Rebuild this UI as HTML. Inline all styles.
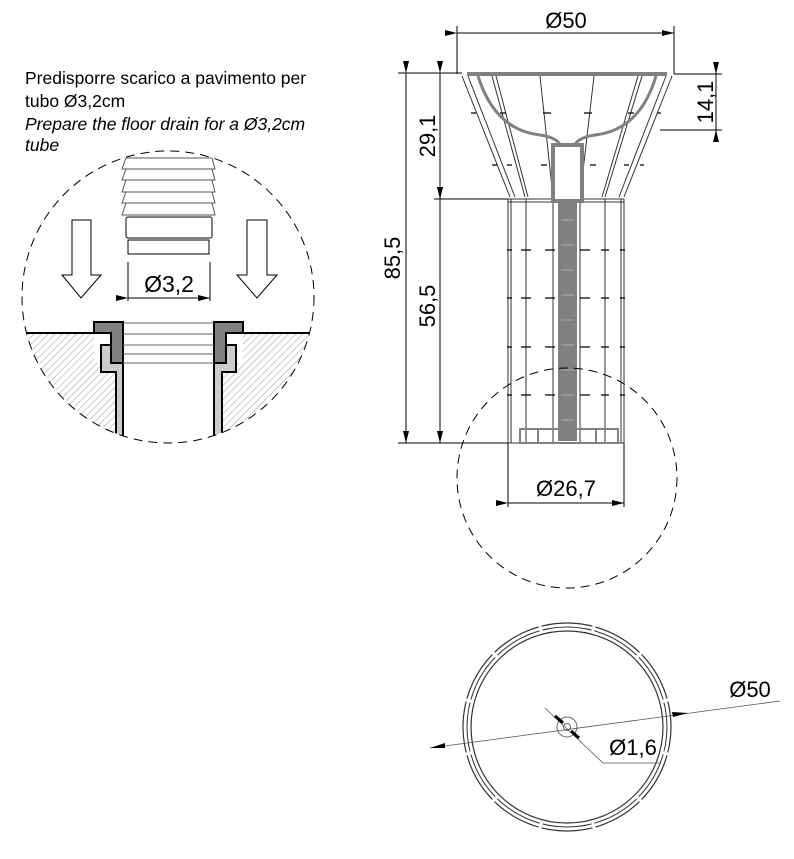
<!DOCTYPE html>
<html><head><meta charset="utf-8"><style>
html,body{margin:0;padding:0;background:#fff}
svg{display:block}
text{font-family:"Liberation Sans",Arial,sans-serif;fill:#000}
</style></head><body>
<svg width="794" height="859" viewBox="0 0 794 859" xmlns="http://www.w3.org/2000/svg">
<defs>
<marker id="ar" markerWidth="12" markerHeight="6" refX="12" refY="3" orient="auto" markerUnits="userSpaceOnUse"><path d="M0,0 L12,3 L0,6 z" fill="#000"/></marker>
<pattern id="hatch" width="5" height="5" patternUnits="userSpaceOnUse" patternTransform="rotate(45)"><line x1="0" y1="0" x2="0" y2="5" stroke="#999" stroke-width="1"/></pattern>
<clipPath id="cc"><circle cx="168" cy="297" r="146"/></clipPath>
</defs>

<text x="25" y="84" font-size="17.5">Predisporre scarico a pavimento per</text>
<text x="25" y="107" font-size="17.5">tubo Ø3,2cm</text>
<text x="25" y="130" font-size="17.5" font-style="italic">Prepare the floor drain for a Ø3,2cm</text>
<text x="25" y="151" font-size="17.5" font-style="italic">tube</text>

<!-- left detail -->
<g clip-path="url(#cc)">
<polygon points="0,333 94,333 94,363 101,363 101,372 116,372 116,443 0,443" fill="url(#hatch)"/>
<polygon points="243,333 340,333 340,443 222,443 222,372 236,372 236,363 243,363" fill="url(#hatch)"/>
<polygon points="101,345 111,345 111,363 123,363 123,443 116,443 116,372 101,372" fill="#ccc" stroke="#000" stroke-width="2"/>
<polygon points="236,345 226,345 226,363 214,363 214,443 222,443 222,372 236,372" fill="#ccc" stroke="#000" stroke-width="2"/>
<polygon points="94,322 123,322 123,363 111,363 111,333 94,333" fill="#808080" stroke="#000" stroke-width="2"/>
<polygon points="243,322 214,322 214,363 226,363 226,333 243,333" fill="#808080" stroke="#000" stroke-width="2"/>
<line x1="0" y1="333" x2="94" y2="333" stroke="#000" stroke-width="2"/>
<line x1="243" y1="333" x2="340" y2="333" stroke="#000" stroke-width="2"/>
<g stroke="#666" stroke-width="1"><line x1="123" y1="323" x2="214" y2="323"/><line x1="123" y1="334" x2="214" y2="334"/><line x1="123" y1="345" x2="214" y2="345"/><line x1="123" y1="354" x2="214" y2="354"/><line x1="123" y1="363" x2="214" y2="363"/></g>
<g fill="#fff" stroke="#555" stroke-width="1">
<polygon points="126,158 212,158 215,169 122,169"/>
<polygon points="126,169 212,169 215,180 122,180"/>
<polygon points="126,180 212,180 215,192 122,192"/>
<polygon points="126,192 212,192 215,203 122,203"/>
<polygon points="126,203 212,203 215,215 122,215"/>
<rect x="126" y="217" width="86" height="21" rx="2" stroke="#000"/>
<rect x="128" y="240" width="81" height="14" stroke="#000"/>
</g>
<polygon points="72,220 91,220 91,275 101,275 81,298 62,275 72,275" fill="#fff" stroke="#000" stroke-width="1"/>
<polygon points="247,220 267,220 267,275 277,275 257,298 237,275 247,275" fill="#fff" stroke="#000" stroke-width="1"/>
</g>
<circle cx="168" cy="297" r="146" fill="none" stroke="#000" stroke-width="1" stroke-dasharray="9,6"/>
<line x1="128" y1="262" x2="128" y2="301" stroke="#000"/>
<line x1="210" y1="262" x2="210" y2="301" stroke="#000"/>
<line x1="128" y1="298" x2="210" y2="298" stroke="#000" marker-start="url(#ar)" marker-end="url(#ar)"/>
<text x="169" y="292" font-size="23" text-anchor="middle">Ø3,2</text>

<!-- main drawing dims -->
<g stroke="#000" stroke-width="1" fill="none">
<line x1="457" y1="26" x2="457" y2="74"/><line x1="674" y1="26" x2="674" y2="74"/>
<line x1="457" y1="33" x2="674" y2="33" marker-start="url(#ar)" marker-end="url(#ar)"/>
<line x1="674" y1="74" x2="722" y2="74"/><line x1="660" y1="130" x2="722" y2="130"/>
<line x1="716" y1="62" x2="716" y2="74" marker-end="url(#ar)"/><line x1="716" y1="142" x2="716" y2="130" marker-end="url(#ar)"/>
<line x1="716" y1="74" x2="716" y2="130"/>
<line x1="398" y1="73" x2="462" y2="73"/><line x1="398" y1="443" x2="508" y2="443"/>
<line x1="434" y1="199" x2="508" y2="199"/>
<line x1="406" y1="73" x2="406" y2="443" marker-start="url(#ar)" marker-end="url(#ar)"/>
<line x1="440" y1="73" x2="440" y2="199" marker-start="url(#ar)" marker-end="url(#ar)"/>
<line x1="440" y1="199" x2="440" y2="443" marker-start="url(#ar)" marker-end="url(#ar)"/>
<line x1="508" y1="443" x2="508" y2="507"/><line x1="624" y1="443" x2="624" y2="507"/>
<line x1="508" y1="503" x2="624" y2="503" marker-start="url(#ar)" marker-end="url(#ar)"/>
</g>
<text x="566" y="28" font-size="22" text-anchor="middle">Ø50</text>
<text transform="translate(713,102) rotate(-90)" font-size="22" text-anchor="middle">14,1</text>
<text transform="translate(400,258) rotate(-90)" font-size="22" text-anchor="middle">85,5</text>
<text transform="translate(435,136) rotate(-90)" font-size="22" text-anchor="middle">29,1</text>
<text transform="translate(435,306) rotate(-90)" font-size="22" text-anchor="middle">56,5</text>
<text x="566" y="496" font-size="22" text-anchor="middle">Ø26,7</text>

<!-- product -->
<g fill="none" stroke="#333" stroke-width="1">
<path d="M462,76 L510,197 M468,76 L515,197 M672,76 L624,197 M666,76 L619,197"/>
<path d="M492,76 L525,197 M496,76 L528,197 M540,76 L553,197 M594,76 L580,197 M642,76 L605,197 M638,76 L602,197"/>
<line x1="508" y1="199" x2="508" y2="443"/><line x1="511" y1="199" x2="511" y2="443"/>
<line x1="624" y1="199" x2="624" y2="443"/><line x1="621" y1="199" x2="621" y2="443"/>
<line x1="508" y1="199" x2="624" y2="199"/><line x1="508" y1="202" x2="624" y2="202"/>
<line x1="526" y1="199" x2="526" y2="443"/><line x1="553" y1="199" x2="553" y2="443"/>
<line x1="580" y1="199" x2="580" y2="443"/><line x1="605" y1="199" x2="605" y2="443"/>
<line x1="508" y1="443" x2="624" y2="443"/>
</g>
<g stroke="#000" stroke-width="1.3">
<path d="M507,250h5M521,250h10M545,250h10M580,250h10M601,250h8M620,250h5"/>
<path d="M507,298h5M521,298h10M545,298h10M580,298h10M601,298h8M620,298h5"/>
<path d="M507,347h5M521,347h10M545,347h10M580,347h10M601,347h8M620,347h5"/>
<path d="M507,395h5M521,395h10M545,395h10M580,395h10M601,395h8M620,395h5"/>
<path d="M471,113h5M500,113h6M543,113h8M584,113h8M628,113h6M657,113h4"/>
<path d="M492,165h5M507,165h5M541,165h6M590,165h6M624,165h5M640,165h4"/>
</g>
<line x1="467" y1="74" x2="667" y2="74" stroke="#808080" stroke-width="4"/>
<path d="M478,76 Q495,130 540,135 Q560,138 561,148 M656,76 Q640,130 595,135 Q575,138 574,148" fill="none" stroke="#808080" stroke-width="3"/>
<rect x="553" y="145" width="29" height="56" fill="#fff" stroke="#808080" stroke-width="4"/>
<rect x="558" y="201" width="19" height="240" fill="#808080"/>
<g stroke="#aaa" stroke-width="1"><path d="M561,220h13M561,245h13M561,270h13M561,295h13M561,320h13M561,345h13M561,370h13M561,395h13M561,420h13"/></g>
<g fill="none" stroke="#808080" stroke-width="2"><rect x="520" y="429" width="98" height="14"/><line x1="538" y1="429" x2="538" y2="443"/><line x1="596" y1="429" x2="596" y2="443"/></g>
<circle cx="567" cy="478" r="110" fill="none" stroke="#000" stroke-width="1" stroke-dasharray="9,6"/>

<!-- bottom view -->
<circle cx="567" cy="727" r="104" fill="none" stroke="#333" stroke-width="1.2"/>
<circle cx="567" cy="727" r="100" fill="none" stroke="#333" stroke-width="1"/>
<circle cx="567" cy="727" r="96" fill="none" stroke="#333" stroke-width="1.2"/>
<g stroke="#fff" stroke-width="3" transform="translate(567,727)">
<line x1="0" y1="-99" x2="0" y2="-106" transform="rotate(15)"/><line x1="0" y1="-99" x2="0" y2="-106" transform="rotate(45)"/>
<line x1="0" y1="-99" x2="0" y2="-106" transform="rotate(75)"/><line x1="0" y1="-99" x2="0" y2="-106" transform="rotate(105)"/>
<line x1="0" y1="-99" x2="0" y2="-106" transform="rotate(135)"/><line x1="0" y1="-99" x2="0" y2="-106" transform="rotate(165)"/>
<line x1="0" y1="-99" x2="0" y2="-106" transform="rotate(195)"/><line x1="0" y1="-99" x2="0" y2="-106" transform="rotate(225)"/>
<line x1="0" y1="-99" x2="0" y2="-106" transform="rotate(255)"/><line x1="0" y1="-99" x2="0" y2="-106" transform="rotate(285)"/>
<line x1="0" y1="-99" x2="0" y2="-106" transform="rotate(315)"/><line x1="0" y1="-99" x2="0" y2="-106" transform="rotate(345)"/>
</g>
<circle cx="567" cy="727" r="10" fill="none" stroke="#666"/>
<circle cx="567" cy="727" r="3.5" fill="none" stroke="#666"/>
<line x1="430" y1="748" x2="780" y2="701" stroke="#555" stroke-width="0.8"/>
<polygon points="430,748 445,743 445,748" fill="#000"/>
<polygon points="688,713 672,712 673,717" fill="#000"/>
<line x1="545" y1="708" x2="603" y2="763" stroke="#555" stroke-width="0.8"/>
<line x1="603" y1="763" x2="660" y2="763" stroke="#555" stroke-width="0.8"/>
<line x1="555" y1="716" x2="563" y2="723" stroke="#000" stroke-width="3"/>
<line x1="571" y1="731" x2="579" y2="738" stroke="#000" stroke-width="3"/>
<text x="750" y="697" font-size="22" text-anchor="middle">Ø50</text>
<text x="633" y="755" font-size="22" text-anchor="middle">Ø1,6</text>
</svg>
</body></html>
